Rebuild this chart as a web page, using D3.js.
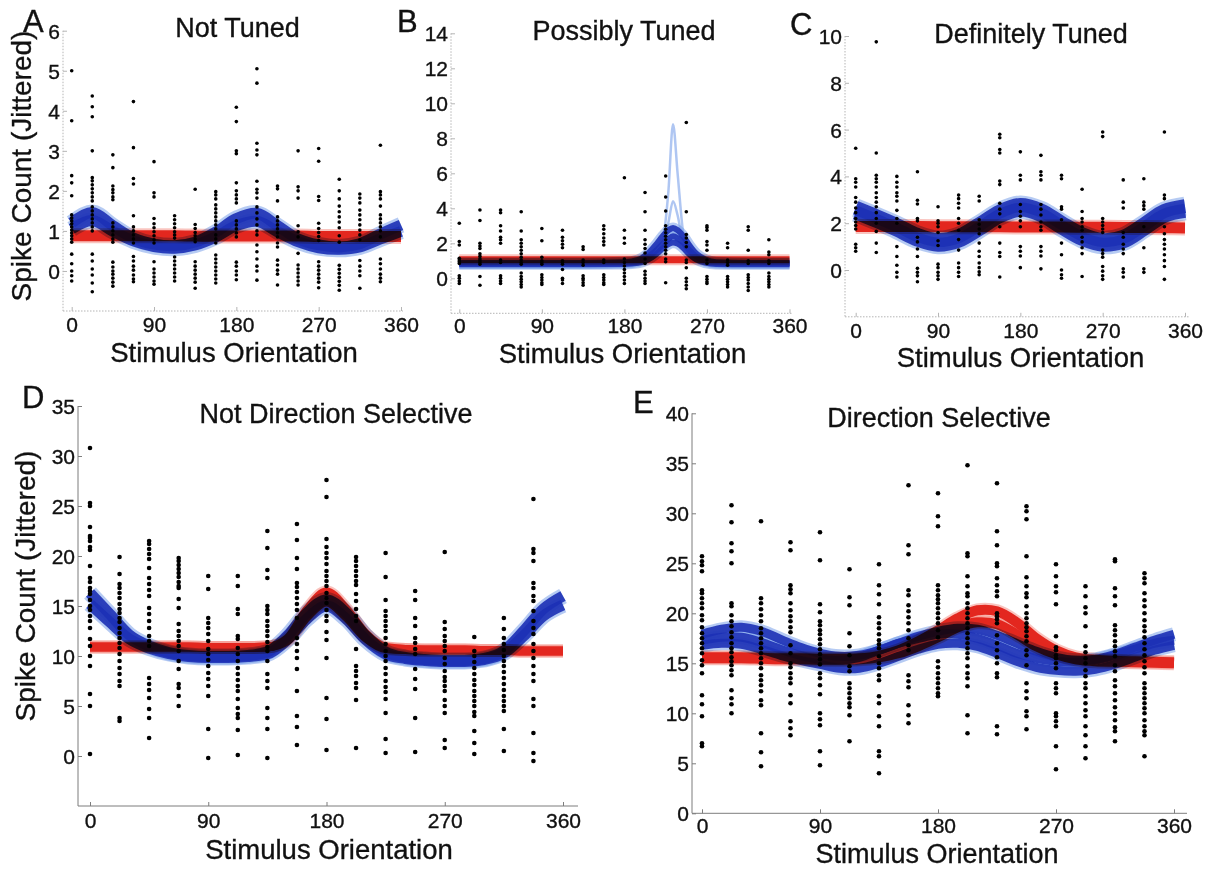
<!DOCTYPE html>
<html>
<head>
<meta charset="utf-8">
<script src="https://cdn.jsdelivr.net/npm/d3@7/dist/d3.min.js"></script>
<style>
  html,body{margin:0;padding:0;background:#fff;}
  svg{display:block;}
</style>
</head>
<body>
<svg id="chart" width="1211" height="869"></svg>
<script>
// ================= DATA =================
const orientations = [0, 22.5, 45, 67.5, 90, 112.5, 135, 157.5, 180, 202.5, 225, 247.5, 270, 292.5, 315, 337.5];
const xTickValues = [0, 90, 180, 270, 360];
const panelLetters = ["A", "B", "C", "D", "E"];
const panelTitles = ["Not Tuned", "Possibly Tuned", "Definitely Tuned", "Not Direction Selective", "Direction Selective"];
const xAxisLabel = "Stimulus Orientation";
const yAxisLabel = "Spike Count (Jittered)";

const aYTicks = [0, 1, 2, 3, 4, 5, 6];
const bYTicks = [0, 2, 4, 6, 8, 10, 12, 14];
const cYTicks = [0, 2, 4, 6, 8, 10];
const dYTicks = [0, 5, 10, 15, 20, 25, 30, 35];
const eYTicks = [0, 5, 10, 15, 20, 25, 30, 35, 40];

// jittered spike counts, one list per orientation
const aCounts = [
  [5.0, 3.75, 2.38, 2.2, 1.88, 1.4, 1.32, 1.25, 1.18, 1.1, 1.02, 0.95, 0.88, 0.8, 0.72, 0.42, 0.18, 0.0, -0.12, -0.25],
  [4.37, 4.1, 3.85, 3.0, 2.33, 2.25, 2.15, 2.05, 1.95, 1.85, 1.75, 1.6, 1.5, 1.4, 1.3, 1.2, 1.1, 1.0, 0.42, 0.25, 0.05, -0.1, -0.3, -0.52],
  [2.9, 2.58, 2.12, 2.03, 1.95, 1.85, 1.78, 1.2, 1.1, 1.0, 0.9, 0.8, 0.72, 0.22, 0.1, 0.0, -0.08, -0.18, -0.28, -0.38],
  [4.23, 3.08, 2.31, 2.17, 1.38, 1.1, 1.0, 0.9, 0.8, 0.7, 0.36, 0.25, 0.12, 0.02, -0.1, -0.2, -0.27],
  [2.73, 1.95, 1.85, 1.31, 1.18, 1.08, 0.98, 0.88, 0.78, 0.7, 0.23, 0.05, -0.05, -0.15, -0.25, -0.33],
  [1.38, 1.28, 1.18, 1.08, 0.98, 0.9, 0.82, 0.35, 0.25, 0.15, 0.05, -0.05, -0.15, -0.25],
  [2.04, 1.16, 1.06, 0.96, 0.88, 0.8, 0.73, 0.23, 0.12, 0.02, -0.08, -0.18, -0.28, -0.43],
  [1.98, 1.9, 1.8, 1.65, 1.55, 1.45, 1.35, 1.25, 1.15, 1.05, 0.9, 0.8, 0.7, 0.4, 0.3, 0.2, 0.1, 0.0, -0.1, -0.2, -0.3],
  [4.09, 3.73, 3.0, 2.93, 2.2, 2.0, 1.9, 1.8, 1.7, 1.25, 1.15, 1.05, 0.95, 0.85, 0.22, 0.12, 0.0, -0.1, -0.22],
  [5.05, 4.69, 3.19, 3.02, 2.9, 2.24, 2.04, 1.95, 1.82, 1.6, 1.45, 1.3, 1.15, 1.0, 0.9, 0.65, 0.48, 0.3, 0.12, 0.0, -0.23],
  [2.12, 2.05, 1.75, 1.35, 1.25, 1.15, 1.05, 0.95, 0.85, 0.7, 0.6, 0.27, 0.15, 0.02, -0.08, -0.35],
  [3.0, 2.1, 2.0, 1.82, 1.13, 0.98, 0.85, 0.44, 0.15, 0.05, -0.05, -0.15, -0.25, -0.35],
  [3.06, 2.74, 1.86, 1.76, 1.19, 1.06, 0.96, 0.86, 0.76, 0.23, 0.12, 0.02, -0.08, -0.18, -0.28, -0.42],
  [2.29, 2.0, 1.8, 1.62, 1.48, 1.35, 1.22, 1.08, 0.88, 0.72, 0.14, 0.04, -0.06, -0.16, -0.26, -0.36, -0.48],
  [1.92, 1.82, 1.7, 1.52, 1.4, 1.28, 1.15, 1.02, 0.9, 0.78, 0.26, 0.12, 0.0, -0.12, -0.43],
  [3.14, 1.98, 1.9, 1.8, 1.62, 1.4, 1.3, 1.2, 1.1, 1.0, 0.85, 0.3, 0.18, 0.05, -0.08, -0.18, -0.27]
];
const bCounts = [
  [3.15, 2.1, 1.9, 1.15, 1.05, 0.95, 0.85, 0.15, 0.0, -0.15, -0.3],
  [3.9, 3.3, 2.0, 1.85, 1.7, 1.4, 1.25, 1.1, 1.0, 0.9, 0.8, 0.1, -0.4],
  [3.9, 3.75, 3.0, 2.7, 2.35, 2.2, 2.0, 1.05, 0.9, 0.15, 0.0, -0.15, -0.3],
  [3.8, 2.7, 2.2, 2.0, 1.8, 1.6, 1.4, 1.2, 1.05, 0.9, 0.8, 0.3, 0.1, -0.05, -0.2, -0.35, -0.5],
  [2.85, 2.15, 1.2, 1.0, 0.9, 0.8, 0.2, 0.05, -0.1, -0.25, -0.35],
  [2.75, 2.35, 2.15, 1.95, 1.75, 1.0, 0.9, 0.8, 0.5, 0.0, -0.1, -0.3],
  [1.8, 1.65, 1.05, 0.9, 0.75, 0.15, 0.0, -0.1, -0.25, -0.4],
  [3.0, 2.8, 2.55, 2.3, 2.1, 1.9, 1.05, 0.9, 0.2, 0.05, -0.1, -0.25, -0.35],
  [5.75, 2.75, 2.3, 2.0, 1.1, 0.9, 0.7, 0.5, 0.3, 0.1, -0.1, -0.3],
  [4.9, 3.8, 2.75, 2.2, 1.95, 1.7, 1.45, 1.1, 0.85, 0.4, 0.2, 0.0, -0.15, -0.3],
  [5.85, 4.65, 3.85, 3.0, 2.8, 2.6, 2.4, 2.2, 2.0, 1.8, 1.6, 1.4, 1.1, 0.95, -0.25],
  [8.9, 3.8, 2.5, 2.3, 2.05, 1.8, 1.05, 0.9, 0.6, 0.0, -0.2, -0.4, -0.6],
  [3.0, 2.9, 2.75, 2.1, 1.9, 1.6, 1.05, 0.85, 0.1, -0.05, -0.2, -0.3],
  [2.0, 1.75, 1.05, 0.9, 0.75, 0.1, -0.05, -0.2, -0.35, -0.5],
  [2.95, 2.75, 1.6, 1.0, 0.85, 0.2, 0.05, -0.1, -0.3, -0.5, -0.7],
  [2.2, 1.5, 1.35, 1.0, 0.85, 0.3, 0.1, -0.05, -0.2, -0.35, -0.5]
];
const cCounts = [
  [5.2, 3.9, 3.75, 3.55, 3.1, 2.9, 2.65, 2.45, 2.2, 2.05, 1.9, 1.75, 1.1, 0.95, 0.8],
  [9.75, 5.0, 4.05, 3.9, 3.75, 3.55, 3.3, 3.1, 2.9, 2.7, 2.45, 2.2, 2.0, 1.65, 1.15, 0.75],
  [4.0, 3.75, 3.55, 3.3, 3.15, 2.95, 2.55, 2.2, 2.0, 1.0, 0.58, 0.2, -0.1, -0.3],
  [4.2, 2.98, 2.82, 2.2, 2.1, 1.4, 1.2, 0.9, 0.58, 0.07, -0.1, -0.25, -0.5],
  [2.7, 2.1, 2.0, 1.85, 1.6, 1.25, 1.05, 0.25, 0.1, -0.1, -0.25, -0.4],
  [3.2, 3.05, 2.85, 2.65, 2.2, 2.0, 1.7, 1.3, 0.85, 0.3, 0.1, -0.1, -0.28],
  [3.15, 2.95, 2.15, 1.95, 1.75, 1.55, 1.15, 0.8, 0.58, 0.3, 0.1, -0.08, -0.2],
  [5.8, 5.65, 5.15, 5.0, 3.8, 3.65, 2.85, 2.6, 2.4, 1.85, 1.15, 0.75, 0.58, -0.3],
  [5.05, 4.05, 3.85, 2.8, 2.5, 2.3, 2.1, 1.85, 1.0, 0.8, 0.6, 0.1],
  [4.9, 4.2, 4.05, 3.85, 2.8, 2.6, 2.35, 2.05, 1.85, 1.7, 1.0, 0.8, 0.6, 0.05],
  [4.05, 3.9, 2.7, 2.6, 2.15, 1.15, 0.65, 0.0, -0.2, -0.35],
  [3.45, 2.5, 2.2, 2.05, 1.85, 1.7, 1.4, 1.2, 0.95, 0.7, -0.28],
  [5.9, 5.7, 2.2, 2.05, 1.9, 1.75, 1.6, 0.85, 0.7, 0.55, 0.15, -0.05, -0.25, -0.4],
  [3.85, 2.9, 2.65, 1.6, 1.4, 1.1, 0.9, 0.7, 0.05, -0.1, -0.3],
  [3.9, 2.9, 2.75, 2.6, 1.85, 0.95, 0.05, -0.1],
  [5.9, 3.2, 3.05, 1.85, 1.55, 1.3, 1.1, 0.9, 0.65, 0.4, 0.15, -0.4]
];
const dCounts = [
  [30.8, 25.3, 25.0, 22.9, 22.0, 21.8, 21.5, 20.9, 20.6, 19.0, 17.8, 17.4, 16.8, 16.5, 16.2, 15.6, 15.0, 14.6, 14.0, 13.5, 12.8, 11.7, 11.0, 10.0, 9.0, 6.2, 5.0, 0.2],
  [19.9, 18.2, 17.2, 16.8, 16.3, 15.8, 15.2, 14.7, 14.3, 13.8, 13.4, 12.8, 12.3, 11.8, 11.3, 10.8, 10.2, 9.5, 8.8, 8.2, 7.5, 7.0, 3.8, 3.5],
  [21.5, 21.2, 20.7, 20.2, 19.7, 18.8, 17.8, 17.2, 16.6, 16.0, 14.8, 14.2, 13.5, 12.8, 12.0, 11.5, 11.0, 7.8, 7.2, 6.6, 5.8, 4.7, 3.8, 1.8],
  [19.8, 19.5, 19.1, 18.7, 18.3, 17.9, 17.4, 17.0, 16.8, 15.7, 14.8, 13.2, 12.5, 12.0, 11.5, 11.0, 10.5, 9.5, 8.7, 7.2, 6.8, 6.0, 5.0],
  [18.0, 16.7, 13.8, 13.3, 12.8, 12.2, 11.5, 10.7, 10.2, 9.6, 9.0, 8.3, 7.7, 7.0, 6.0, 2.7, -0.2],
  [18.0, 17.0, 14.7, 14.2, 12.0, 11.7, 10.8, 10.2, 9.5, 8.8, 8.2, 7.6, 7.0, 6.5, 5.7, 4.8, 4.2, 3.8, 2.6, 0.1],
  [22.5, 20.8, 18.6, 17.8, 15.0, 14.6, 14.2, 13.5, 13.0, 12.5, 12.0, 11.4, 10.9, 10.5, 9.5, 8.2, 7.5, 6.8, 4.8, 3.8, 2.7, -0.2],
  [23.2, 21.6, 19.8, 18.7, 17.3, 16.9, 16.4, 15.8, 15.2, 14.6, 13.8, 11.8, 11.2, 10.5, 9.8, 8.7, 6.5, 4.0, 2.9, 1.1],
  [27.6, 25.9, 21.7, 20.9, 20.3, 19.8, 19.2, 18.5, 18.0, 17.5, 17.0, 16.3, 15.8, 15.3, 14.6, 14.0, 13.5, 12.4, 11.6, 9.8, 5.8, 3.7, 0.6],
  [19.9, 19.5, 19.0, 18.5, 18.0, 17.5, 17.1, 16.2, 15.5, 14.7, 14.0, 13.5, 10.7, 9.0, 8.5, 8.0, 7.3, 6.8, 5.6, 0.8],
  [20.3, 17.9, 15.6, 14.5, 14.0, 13.5, 13.0, 12.5, 11.8, 11.2, 10.5, 10.0, 9.5, 8.8, 8.2, 7.5, 6.9, 6.4, 5.7, 4.3, 1.7, 0.3],
  [16.5, 15.6, 13.8, 13.0, 11.8, 11.3, 10.7, 10.2, 8.7, 7.7, 6.7, 3.8, 0.4],
  [20.4, 13.4, 12.7, 12.0, 11.5, 11.0, 10.5, 9.8, 9.2, 8.5, 7.9, 7.5, 7.0, 6.5, 5.6, 5.0, 4.3, 1.6, 0.8],
  [11.9, 10.5, 10.0, 9.4, 8.8, 8.2, 7.6, 7.1, 6.5, 6.0, 5.5, 5.0, 4.4, 4.0, 2.5, 1.3, 0.2],
  [13.8, 12.7, 11.8, 11.2, 10.6, 10.0, 9.5, 9.0, 8.4, 7.8, 7.2, 6.6, 6.0, 5.5, 5.0, 4.5, 2.7, 0.5],
  [25.7, 20.7, 20.3, 19.5, 17.3, 16.8, 16.0, 15.5, 14.5, 13.5, 12.8, 12.2, 11.2, 10.5, 9.8, 9.0, 8.2, 7.5, 5.7, 5.0, 2.3, 0.3, -0.5]
];
const eCounts = [
  [25.7, 25.2, 24.8, 24.2, 22.3, 22.0, 21.5, 21.0, 20.5, 19.8, 19.3, 18.6, 18.0, 17.5, 17.0, 16.5, 16.0, 15.3, 14.8, 14.0, 11.8, 10.9, 9.7, 7.0, 6.7],
  [30.8, 29.1, 27.0, 26.2, 25.0, 21.0, 20.7, 19.8, 19.2, 18.7, 18.1, 17.6, 17.0, 16.5, 16.1, 15.6, 15.2, 14.8, 14.3, 13.8, 12.3, 11.5, 10.9, 10.0],
  [29.2, 21.5, 21.0, 20.4, 19.8, 19.2, 18.5, 18.0, 17.5, 17.0, 16.5, 16.0, 15.5, 15.0, 14.5, 13.8, 13.3, 12.8, 12.2, 11.3, 10.8, 8.0, 6.1, 4.7],
  [27.1, 26.3, 22.8, 22.4, 22.0, 21.0, 20.3, 19.7, 19.2, 18.6, 18.1, 16.8, 16.0, 15.0, 14.6, 14.0, 13.5, 13.0, 11.8, 11.0, 9.2, 8.5, 7.8],
  [28.1, 25.3, 20.9, 20.1, 19.2, 18.8, 18.3, 17.9, 17.4, 16.9, 16.4, 15.9, 15.4, 14.9, 14.0, 13.5, 12.8, 11.9, 10.0, 9.4, 8.8, 6.2, 4.8],
  [24.4, 21.6, 20.8, 18.0, 16.7, 15.8, 14.7, 14.2, 13.0, 12.5, 12.0, 11.5, 11.0, 10.6, 9.8, 7.2],
  [24.9, 22.8, 21.9, 20.9, 19.6, 19.0, 18.5, 17.9, 17.3, 16.9, 16.5, 15.7, 15.0, 14.5, 13.8, 13.3, 11.7, 11.0, 9.7, 8.7, 6.2, 5.7, 4.0],
  [32.8, 26.8, 25.9, 22.3, 21.8, 20.8, 20.2, 19.6, 19.0, 18.3, 17.5, 16.8, 16.3, 13.8, 13.2, 12.6, 10.8, 9.8, 9.0],
  [32.0, 29.7, 28.7, 22.8, 22.3, 21.8, 21.4, 21.0, 20.5, 20.0, 19.5, 19.0, 18.3, 17.6, 15.2, 14.6, 14.0, 13.5, 13.0, 12.5, 12.0, 11.7],
  [34.8, 26.0, 25.7, 23.7, 22.7, 22.0, 21.7, 21.0, 20.5, 20.0, 19.5, 19.0, 18.5, 18.0, 17.5, 17.0, 16.5, 16.0, 15.5, 14.7, 14.0, 13.5, 12.7, 9.8, 8.0],
  [33.0, 28.2, 26.8, 25.0, 24.7, 23.5, 22.8, 22.2, 21.7, 20.0, 19.7, 19.4, 19.0, 17.8, 17.0, 16.3, 15.6, 15.0, 14.0, 13.6, 8.7, 7.9],
  [30.7, 30.2, 29.4, 25.7, 23.6, 22.7, 22.0, 21.6, 20.7, 20.0, 19.5, 19.0, 18.6, 18.2, 17.7, 17.2, 16.3, 15.8, 14.8, 13.0, 12.2, 11.5, 10.2, 9.7, 8.4],
  [24.9, 23.7, 22.7, 22.1, 20.9, 17.7, 16.6, 16.3, 15.8, 15.5, 15.0, 14.5, 13.0, 12.5, 12.0, 10.0, 9.7, 9.2, 8.7, 6.7, 4.4],
  [22.7, 21.7, 20.6, 20.0, 18.7, 16.7, 16.1, 15.5, 15.0, 14.3, 13.7, 13.0, 12.5, 11.7, 11.0, 10.3, 9.7, 8.7, 7.8, 6.7, 5.5],
  [25.4, 25.2, 22.5, 21.7, 20.8, 18.8, 18.3, 17.8, 17.2, 16.7, 16.2, 15.7, 14.8, 14.2, 13.3, 12.7, 12.0, 11.3, 10.6, 10.0, 9.3, 8.6, 8.2, 7.2],
  [24.0, 23.5, 23.0, 22.0, 21.3, 20.7, 20.0, 19.3, 18.7, 18.2, 17.6, 17.0, 16.4, 15.8, 15.2, 14.6, 14.0, 13.0, 12.5, 12.0, 11.5, 11.0, 10.5, 10.0, 9.3, 8.7, 8.2, 7.8, 5.7]
];

// fitted tuning-curve samples (red = one model, blue = the other), read at these angles
const aCurveAngles = [0, 22.5, 45, 67.5, 90, 112.5, 135, 157.5, 180, 202.5, 225, 247.5, 270, 292.5, 315, 337.5, 360];
const aRedLines = [[0.88, 0.88, 0.88, 0.88, 0.88, 0.88, 0.87, 0.87, 0.87, 0.87, 0.87, 0.87, 0.86, 0.86, 0.86, 0.86, 0.86]];
const aBlueLines = [
  [1.2, 1.46, 1.13, 0.82, 0.67, 0.63, 0.72, 0.97, 1.31, 1.44, 1.13, 0.8, 0.65, 0.6, 0.68, 0.92, 1.15],
  [1.05, 1.26, 0.99, 0.75, 0.61, 0.57, 0.65, 0.85, 1.13, 1.24, 0.98, 0.73, 0.58, 0.54, 0.6, 0.8, 0.99]
];

const bCurveAngles = [0, 45, 90, 135, 180, 195, 205, 215, 222, 228, 233, 238, 244, 250, 258, 268, 280, 315, 360];
const bRedLines = [[1.06, 1.06, 1.06, 1.06, 1.06, 1.06, 1.06, 1.06, 1.06, 1.06, 1.06, 1.06, 1.06, 1.06, 1.06, 1.06, 1.06, 1.06, 1.06]];
const bBlueLines = [
  [0.88, 0.88, 0.88, 0.88, 0.92, 1.05, 1.38, 1.95, 2.42, 2.75, 2.88, 2.75, 2.42, 1.95, 1.42, 1.08, 0.92, 0.88, 0.88],
  [0.84, 0.84, 0.84, 0.84, 0.87, 0.96, 1.2, 1.6, 1.95, 2.25, 2.4, 2.3, 2.05, 1.65, 1.25, 0.98, 0.87, 0.84, 0.84],
  [0.8, 0.8, 0.8, 0.8, 0.82, 0.88, 1.05, 1.4, 1.72, 1.95, 2.05, 1.98, 1.75, 1.42, 1.1, 0.9, 0.82, 0.8, 0.8]
];
const bBlueSpikes = [
  [0.85, 0.85, 0.85, 0.85, 0.86, 0.9, 1.0, 1.3, 2.2, 5.0, 8.8, 6.0, 2.6, 1.4, 1.0, 0.9, 0.86, 0.85, 0.85],
  [0.85, 0.85, 0.85, 0.85, 0.86, 0.9, 1.0, 1.3, 1.9, 3.2, 4.4, 3.6, 2.0, 1.3, 1.0, 0.9, 0.86, 0.85, 0.85]
];

const cCurveAngles = [0, 22.5, 45, 67.5, 90, 112.5, 135, 157.5, 180, 202.5, 225, 247.5, 270, 292.5, 315, 337.5, 360];
const cRedLines = [[1.86, 1.86, 1.86, 1.86, 1.85, 1.85, 1.85, 1.85, 1.84, 1.84, 1.84, 1.83, 1.83, 1.82, 1.82, 1.81, 1.8]];
const cBlueLines = [
  [2.66, 2.3, 1.92, 1.5, 1.28, 1.45, 1.95, 2.5, 2.78, 2.55, 2.02, 1.53, 1.28, 1.42, 1.95, 2.52, 2.73],
  [2.46, 2.1, 1.72, 1.3, 1.08, 1.25, 1.75, 2.3, 2.58, 2.35, 1.82, 1.33, 1.08, 1.22, 1.75, 2.32, 2.53]
];

const dCurveAngles = [0, 15, 30, 45, 60, 75, 90, 105, 120, 135, 150, 165, 180, 195, 210, 225, 240, 255, 270, 285, 300, 315, 330, 345, 360];
const dRedLines = [
  [10.9, 10.9, 10.9, 10.9, 10.9, 10.9, 10.85, 10.85, 10.85, 10.9, 11.7, 14.6, 16.4, 14.7, 12.2, 10.85, 10.65, 10.6, 10.6, 10.6, 10.55, 10.55, 10.5, 10.5, 10.5],
  [10.9, 10.9, 10.9, 10.9, 10.9, 10.9, 10.85, 10.85, 10.85, 10.9, 11.5, 13.9, 15.4, 13.9, 11.8, 10.75, 10.65, 10.6, 10.6, 10.6, 10.55, 10.55, 10.5, 10.5, 10.5]
];
const dBlueLines = [
  [16.3, 14.2, 12.1, 11.0, 10.35, 10.05, 9.95, 9.95, 10.05, 10.4, 12.0, 14.3, 15.6, 14.3, 12.0, 10.4, 9.85, 9.65, 9.55, 9.55, 9.75, 10.5, 12.5, 14.7, 16.0],
  [15.2, 13.4, 11.7, 10.8, 10.25, 9.95, 9.85, 9.85, 9.95, 10.2, 11.6, 13.7, 15.0, 13.7, 11.6, 10.2, 9.75, 9.55, 9.45, 9.45, 9.65, 10.3, 12.0, 14.0, 15.1]
];

const eCurveAngles = [0, 15, 30, 45, 60, 75, 90, 105, 120, 135, 150, 165, 180, 195, 210, 225, 240, 255, 270, 285, 300, 315, 330, 345, 360];
const eRedLines = [
  [15.6, 15.6, 15.6, 15.55, 15.5, 15.5, 15.45, 15.45, 15.5, 15.75, 16.3, 17.2, 18.3, 19.5, 20.3, 20.2, 19.1, 17.5, 16.3, 15.6, 15.35, 15.25, 15.2, 15.15, 15.1],
  [15.5, 15.5, 15.5, 15.45, 15.4, 15.4, 15.35, 15.35, 15.4, 15.6, 16.0, 16.7, 17.6, 18.6, 19.1, 18.9, 17.9, 16.7, 15.9, 15.4, 15.2, 15.15, 15.1, 15.05, 15.0]
];
const eBlueLines = [
  [17.9, 18.4, 18.6, 18.2, 17.4, 16.6, 16.0, 15.7, 15.8, 16.3, 17.0, 17.7, 18.2, 18.5, 18.4, 17.8, 17.0, 16.2, 15.6, 15.3, 15.4, 15.9, 16.6, 17.3, 17.9],
  [17.3, 17.6, 17.6, 17.1, 16.4, 15.8, 15.4, 15.3, 15.6, 16.3, 17.0, 17.5, 17.9, 17.9, 17.5, 16.8, 16.0, 15.5, 15.2, 15.1, 15.3, 15.8, 16.4, 17.0, 17.3],
  [16.8, 17.0, 16.9, 16.4, 15.8, 15.3, 14.9, 14.5, 14.5, 15.0, 15.7, 16.4, 16.9, 17.0, 16.7, 16.0, 15.2, 14.6, 14.3, 14.2, 14.4, 14.9, 15.6, 16.3, 16.8]
];

// ================= LAYOUT / STYLE =================
const FONT = '"Liberation Sans", Arial, Helvetica, sans-serif';
const RED = "#e3271f", RED_HALO = "#f27c70";
const BLUE = "#1d31b6", BLUE_HALO = "#6e97e8";

const panels = [
  { counts: aCounts, yTicks: aYTicks, yDomain: [-1, 6], angles: aCurveAngles, red: aRedLines, blue: aBlueLines, spikes: [],
    curve: d3.curveCatmullRom, axisX: 63, x0: 71.7, x360: 401, xEnd: 403, yBottom: 311, yTop: 30.7,
    dotted: true, r: 1.8, redW: 11, blueW: 11, letter: [23, 32], title: [237.5, 37], xLab: [234, 362], xLabSize: 27.5, yLab: [31, 166], tickBase: 332 },
  { counts: bCounts, yTicks: bYTicks, yDomain: [-2, 14], angles: bCurveAngles, red: bRedLines, blue: bBlueLines, spikes: bBlueSpikes,
    curve: d3.curveMonotoneX, axisX: 451, x0: 459.3, x360: 789.5, xEnd: 792, yBottom: 313.3, yTop: 33.3,
    dotted: true, r: 1.8, redW: 7, blueW: 6, letter: [397, 32], title: [624, 40], xLab: [622.5, 363], xLabSize: 27.5, yLab: null, tickBase: 333 },
  { counts: cCounts, yTicks: cYTicks, yDomain: [-2, 10], angles: cCurveAngles, red: cRedLines, blue: cBlueLines, spikes: [],
    curve: d3.curveCatmullRom, axisX: 845, x0: 855.7, x360: 1185, xEnd: 1190, yBottom: 316.8, yTop: 36,
    dotted: true, r: 1.8, redW: 11, blueW: 14, letter: [790, 35], title: [1031, 43], xLab: [1020.5, 367], xLabSize: 27.5, yLab: null, tickBase: 338 },
  { counts: dCounts, yTicks: dYTicks, yDomain: [-5, 35], angles: dCurveAngles, red: dRedLines, blue: dBlueLines, spikes: [],
    curve: d3.curveMonotoneX, axisX: 78, x0: 90, x360: 563, xEnd: 578, yBottom: 806, yTop: 406,
    dotted: false, r: 2.3, redW: 9, blueW: 11, letter: [22, 408], title: [336, 423], xLab: [329, 859], xLabSize: 27.5, yLab: [35, 586], tickBase: 828 },
  { counts: eCounts, yTicks: eYTicks, yDomain: [0, 40], angles: eCurveAngles, red: eRedLines, blue: eBlueLines, spikes: [],
    curve: d3.curveCatmullRom, axisX: 692, x0: 702, x360: 1174, xEnd: 1187, yBottom: 813.3, yTop: 413.3,
    dotted: false, r: 2.3, redW: 10, blueW: 9, letter: [633, 413], title: [939, 427], xLab: [937, 862.5], xLabSize: 27, yLab: null, tickBase: 833 }
];

// ================= DRAW =================
const svg = d3.select("#chart");
svg.append("rect").attr("width", 1211).attr("height", 869).attr("fill", "#fff");

function styleText(sel, size) {
  sel.attr("font-family", FONT).attr("font-size", size).attr("fill", "#111")
    .attr("stroke", "#111").attr("stroke-width", 0.35);
  return sel;
}

panels.forEach((p, pi) => {
  const x = d3.scaleLinear().domain([0, 360]).range([p.x0, p.x360]);
  const y = d3.scaleLinear().domain(p.yDomain).range([p.yBottom, p.yTop]);
  const g = svg.append("g");
  const axisColor = p.dotted ? "#b5b5b5" : "#7d7d7d";

  // axis lines
  const yTopTick = y(p.yTicks[p.yTicks.length - 1]);
  g.append("line").attr("x1", p.axisX).attr("x2", p.axisX).attr("y1", yTopTick).attr("y2", p.yBottom)
    .attr("stroke", axisColor).attr("stroke-width", 1).attr("stroke-dasharray", p.dotted ? "1.5,1.5" : null);
  g.append("line").attr("x1", p.axisX).attr("x2", p.xEnd).attr("y1", p.yBottom).attr("y2", p.yBottom)
    .attr("stroke", axisColor).attr("stroke-width", 1).attr("stroke-dasharray", p.dotted ? "1.5,1.5" : null);

  // y axis
  const yAx = g.append("g").attr("transform", `translate(${p.axisX},0)`)
    .call(d3.axisLeft(y).tickValues(p.yTicks).tickSize(-4).tickPadding(3).tickFormat(d3.format("d")));
  yAx.select(".domain").remove();
  yAx.selectAll(".tick line").attr("stroke", axisColor);
  styleText(yAx.selectAll(".tick text"), 21).attr("dy", "0.36em");

  // x axis
  const xAx = g.append("g").attr("transform", `translate(0,${p.yBottom})`)
    .call(d3.axisBottom(x).tickValues(xTickValues).tickSize(-4).tickFormat(d3.format("d")));
  xAx.select(".domain").remove();
  xAx.selectAll(".tick line").attr("stroke", axisColor);
  styleText(xAx.selectAll(".tick text"), 21).attr("y", p.tickBase - p.yBottom).attr("dy", 0);

  // dots
  const dots = [];
  p.counts.forEach((col, i) => col.forEach(v => dots.push({ a: orientations[i], v })));
  g.append("g").selectAll("circle").data(dots).join("circle")
    .attr("cx", d => x(d.a)).attr("cy", d => y(d.v)).attr("r", p.r).attr("fill", "#000");

  const line = d3.line().x((d, i) => x(p.angles[i])).y(d => y(d)).curve(p.curve);

  // red model
  const rg = g.append("g").style("mix-blend-mode", "multiply");
  p.red.forEach(arr => rg.append("path").attr("d", line(arr)).attr("fill", "none")
    .attr("stroke", RED_HALO).attr("stroke-width", p.redW + 4).attr("stroke-opacity", 0.45));
  p.red.forEach(arr => rg.append("path").attr("d", line(arr)).attr("fill", "none")
    .attr("stroke", RED).attr("stroke-width", p.redW));

  // blue model
  const bg = g.append("g").style("mix-blend-mode", "multiply");
  p.spikes.forEach(arr => bg.append("path").attr("d", line(arr)).attr("fill", "none")
    .attr("stroke", BLUE_HALO).attr("stroke-width", 2.5).attr("stroke-opacity", 0.55));
  p.blue.forEach(arr => bg.append("path").attr("d", line(arr)).attr("fill", "none")
    .attr("stroke", BLUE_HALO).attr("stroke-width", p.blueW + 5).attr("stroke-opacity", 0.5));
  p.blue.forEach(arr => bg.append("path").attr("d", line(arr)).attr("fill", "none")
    .attr("stroke", BLUE).attr("stroke-width", p.blueW).attr("stroke-opacity", 0.9));

  // texts
  styleText(g.append("text").attr("x", p.letter[0]).attr("y", p.letter[1]).text(panelLetters[pi]), 31);
  styleText(g.append("text").attr("x", p.title[0]).attr("y", p.title[1]).text(panelTitles[pi]), 27)
    .attr("text-anchor", "middle");
  styleText(g.append("text").attr("x", p.xLab[0]).attr("y", p.xLab[1]).text(xAxisLabel), p.xLabSize)
    .attr("text-anchor", "middle");
  if (p.yLab) {
    styleText(g.append("text").attr("transform", `translate(${p.yLab[0]},${p.yLab[1]}) rotate(-90)`).text(yAxisLabel), 28)
      .attr("text-anchor", "middle");
  }
});
</script>
</body>
</html>
